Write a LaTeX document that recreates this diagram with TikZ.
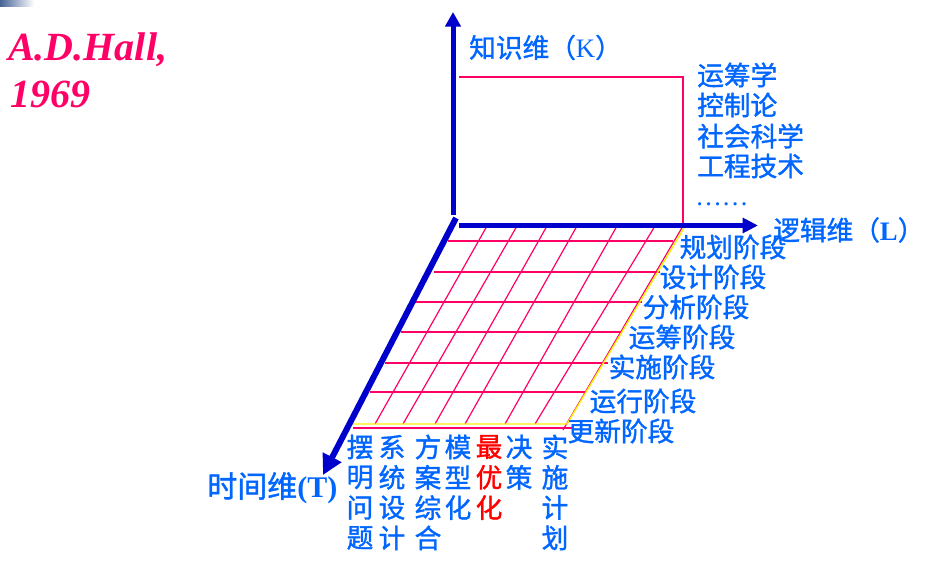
\documentclass[tikz,border=0pt]{standalone}
\usepackage{fontspec}
\setmainfont{Liberation Serif}
\newfontfamily\cjk[FakeBold=1.3]{Noto Sans CJK SC}
\usetikzlibrary{arrows.meta}
\definecolor{axisblue}{RGB}{0,0,204}
\definecolor{txtblue}{RGB}{0,102,255}
\definecolor{gridred}{RGB}{255,0,102}
\definecolor{hallpink}{RGB}{255,0,102}
\definecolor{gradblue}{RGB}{70,100,150}
\begin{document}
\begin{tikzpicture}[x=0.75pt,y=-0.75pt,
  axis/.style={draw=axisblue, line width=3.75pt},
  gridline/.style={draw=gridred, line width=0.9pt},
  yline/.style={draw=yellow, line width=1pt},
  lbl/.style={font=\cjk\fontsize{20pt}{22.5pt}\selectfont, text=txtblue, inner sep=0pt},
  biglbl/.style={font=\fontsize{20pt}{22.5pt}\selectfont, text=txtblue, inner sep=0pt},
  hall/.style={font=\fontsize{30pt}{34pt}\selectfont\bfseries\itshape, text=hallpink, inner sep=0pt}
]
\useasboundingbox (0,0) rectangle (939,588);
\shade[left color=gradblue, right color=white] (0,0) rectangle (34,7);

% title
\node[hall, anchor=base west] (hallname) at (8,61) {A.D.Hall,};
\node[hall, anchor=base west] (hallyear) at (10,108) {1969};

% knowledge rectangle
\coordinate (rk1) at (459,77);
\coordinate (rk2) at (683,77);
\coordinate (rk3) at (683,226);
\draw[gridline] (rk1) -- (rk2) -- (rk3);

% horizontal grid lines
\foreach \xl/\xr/\yy [count=\i] in {448/673/241, 434/660/272, 415/642/302, 401/622/332, 385/608/363, 370/585/392, 353/572/428}{
  \coordinate (hl\i) at (\xl,\yy);
  \coordinate (hr\i) at (\xr,\yy);
  \draw[gridline] (hl\i) -- (hr\i);
}
% diagonal grid lines
\foreach \xt/\xb [count=\i] in {487/375, 517/403, 547/435, 577/465, 617/505, 655/535}{
  \coordinate (dt\i) at (\xt,226);
  \coordinate (db\i) at (\xb,424);
  \draw[gridline] (dt\i) -- (db\i);
}
\coordinate (rdt) at (683,226);
\coordinate (rdb) at (563,430);
\draw[gridline] (rdt) -- (rdb);
% yellow edges
\coordinate (ylt) at (684,228);
\coordinate (ylb) at (567,424);
\coordinate (ybl) at (353,424);
\draw[yline] (ylt) -- (ylb) -- (ybl);

% axes
\coordinate (Kbot) at (453,215);
\coordinate (Ktip) at (453,12);
\draw[axis, -{Triangle[length=11pt,width=11.5pt]}] (Kbot) -- (Ktip);
\coordinate (Lbot) at (459,225.5);
\coordinate (Ltip) at (758,225.5);
\draw[axis, -{Triangle[length=11.5pt,width=11pt]}] (Lbot) -- (Ltip);
\coordinate (Tbot) at (456,218);
\coordinate (Ttip) at (323,475);
\draw[axis, line width=4.5pt, -{Triangle[length=15pt,width=15pt]}] (Tbot) -- (Ttip);

% axis labels
\node[biglbl, anchor=west] (klabel) at (469,47.5) {{\cjk 知识维（}K{\cjk ）}};
\node[biglbl, anchor=west] (llabel) at (773,230) {{\cjk 逻辑维（}\textbf{L}{\cjk ）}};
\node[biglbl, anchor=west, font=\fontsize{22.5pt}{25pt}\selectfont] (tlabel) at (207,488) {{\cjk 时间维}\textbf{(T)}};

% knowledge list
\node[lbl, anchor=west] (k1) at (697,75) {运筹学};
\node[lbl, anchor=west] (k2) at (697,105) {控制论};
\node[lbl, anchor=west] (k3) at (697,136) {社会科学};
\node[lbl, anchor=west] (k4) at (697,166) {工程技术};
\node[biglbl, anchor=base west] (k5) at (695,206) {……};

% stage labels
\node[lbl] (s1) at (733,247) {规划阶段};
\node[lbl] (s2) at (713,277) {设计阶段};
\node[lbl] (s3) at (696,307) {分析阶段};
\node[lbl] (s4) at (682,337) {运筹阶段};
\node[lbl] (s5) at (662,367) {实施阶段};
\node[lbl] (s6) at (643,401) {运行阶段};
\node[lbl] (s7) at (621,431) {更新阶段};

% time columns
\foreach \cx/\cl/\cc [count=\j] in {360/{摆,明,问,题}/txtblue, 392/{系,统,设,计}/txtblue, 428/{方,案,综,合}/txtblue, 458/{模,型,化}/txtblue, 489/{最,优,化}/red, 519/{决,策}/txtblue, 555/{实,施,计,划}/txtblue}{
  \foreach \ch [count=\i] in \cl {
    \node[lbl, text=\cc] (col\j-\i) at (\cx,{447+30.3*(\i-1)}) {\ch};
  }
}
\end{tikzpicture}
\end{document}
